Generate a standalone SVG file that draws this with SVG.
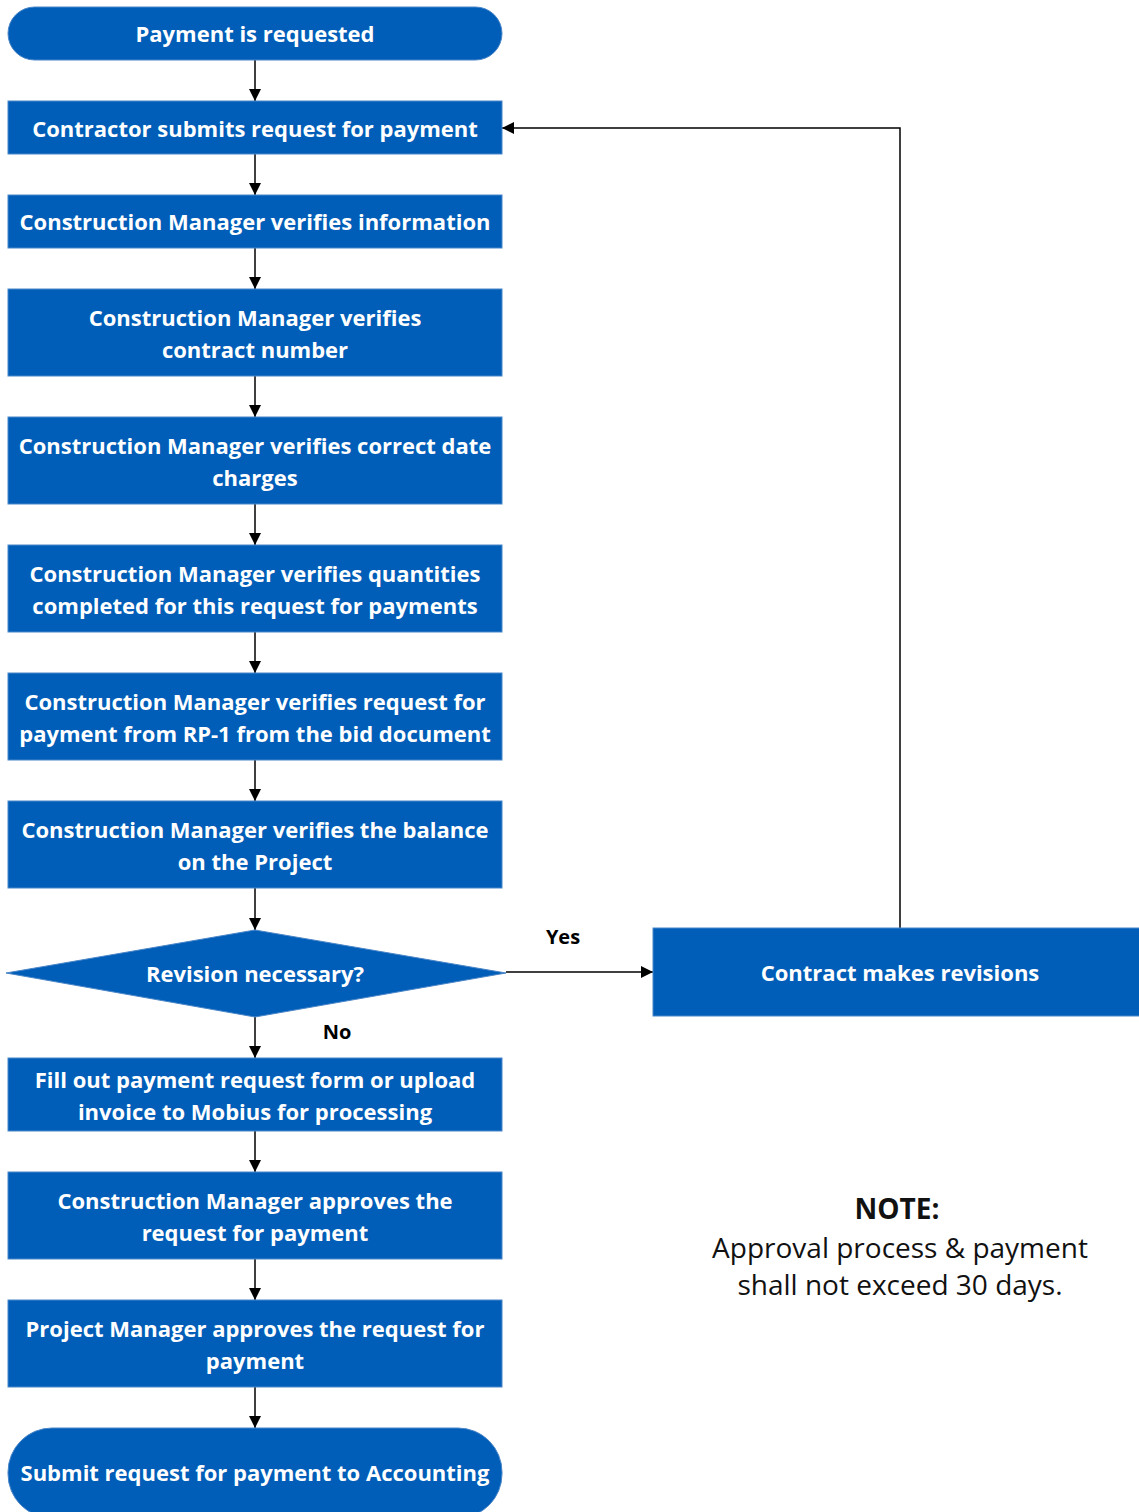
<svg xmlns="http://www.w3.org/2000/svg" width="1139" height="1512" viewBox="0 0 1139 1512">
  <style>
    .box { fill: #005EB8; stroke: #4A86C8; stroke-width: 1; }
    .lbl { font-family: "Open Sans", Lato, sans-serif; font-weight: bold; font-size: 22px; fill: #FFFFFF; text-anchor: middle; dominant-baseline: central; }
    .edge { fill: none; stroke: #000000; stroke-width: 1.5; }
    .elbl { font-family: "Open Sans", Lato, sans-serif; font-weight: bold; font-size: 20px; fill: #000000; text-anchor: middle; dominant-baseline: central; }
    .note { font-family: "Open Sans", Lato, sans-serif; font-size: 28px; fill: #111111; text-anchor: middle; dominant-baseline: central; }
  </style>
  <defs>
    <marker id="arrow" viewBox="0 0 10 10" refX="10" refY="5" markerWidth="12" markerHeight="12" markerUnits="userSpaceOnUse" orient="auto">
      <path d="M0,0 L10,5 L0,10 Z" fill="#000000"/>
    </marker>
  </defs>
  <rect width="1139" height="1512" fill="#FFFFFF"/>

  <g id="connectors">
    <path class="edge" d="M255,60 V101" marker-end="url(#arrow)"/>
    <path class="edge" d="M255,154 V195" marker-end="url(#arrow)"/>
    <path class="edge" d="M255,248 V289" marker-end="url(#arrow)"/>
    <path class="edge" d="M255,376 V417" marker-end="url(#arrow)"/>
    <path class="edge" d="M255,504 V545" marker-end="url(#arrow)"/>
    <path class="edge" d="M255,632 V673" marker-end="url(#arrow)"/>
    <path class="edge" d="M255,760 V801" marker-end="url(#arrow)"/>
    <path class="edge" d="M255,888 V930" marker-end="url(#arrow)"/>
    <path class="edge" d="M255,1017 V1058" marker-end="url(#arrow)"/>
    <path class="edge" d="M255,1131 V1172" marker-end="url(#arrow)"/>
    <path class="edge" d="M255,1259 V1300" marker-end="url(#arrow)"/>
    <path class="edge" d="M255,1387 V1428" marker-end="url(#arrow)"/>
    <path class="edge" d="M506,972 H653" marker-end="url(#arrow)"/>
    <path class="edge" d="M900,928 V128 H502" marker-end="url(#arrow)"/>
    <text class="elbl" x="563" y="936">Yes</text>
    <text class="elbl" x="337" y="1031">No</text>
  </g>

  <g id="start">
    <rect class="box" x="8" y="7" width="494" height="53" rx="26.5"/>
    <text class="lbl" x="255" y="33">Payment is requested</text>
  </g>
  <g id="contractor-submits">
    <rect class="box" x="8" y="101" width="494" height="53"/>
    <text class="lbl" x="255" y="128">Contractor submits request for payment</text>
  </g>
  <g id="verify-information">
    <rect class="box" x="8" y="195" width="494" height="53"/>
    <text class="lbl" x="255" y="221">Construction Manager verifies information</text>
  </g>
  <g id="verify-contract-number">
    <rect class="box" x="8" y="289" width="494" height="87"/>
    <text class="lbl" x="255" y="317">Construction Manager verifies</text>
    <text class="lbl" x="255" y="349">contract number</text>
  </g>
  <g id="verify-date-charges">
    <rect class="box" x="8" y="417" width="494" height="87"/>
    <text class="lbl" x="255" y="445">Construction Manager verifies correct date</text>
    <text class="lbl" x="255" y="477">charges</text>
  </g>
  <g id="verify-quantities">
    <rect class="box" x="8" y="545" width="494" height="87"/>
    <text class="lbl" x="255" y="573">Construction Manager verifies quantities</text>
    <text class="lbl" x="255" y="605">completed for this request for payments</text>
  </g>
  <g id="verify-rp1">
    <rect class="box" x="8" y="673" width="494" height="87"/>
    <text class="lbl" x="255" y="701">Construction Manager verifies request for</text>
    <text class="lbl" x="255" y="733">payment from RP-1 from the bid document</text>
  </g>
  <g id="verify-balance">
    <rect class="box" x="8" y="801" width="494" height="87"/>
    <text class="lbl" x="255" y="829">Construction Manager verifies the balance</text>
    <text class="lbl" x="255" y="861">on the Project</text>
  </g>
  <g id="revision-decision">
    <polygon class="box" points="255,930 506,973 255,1017 6,973"/>
    <text class="lbl" x="255" y="973">Revision necessary?</text>
  </g>
  <g id="contract-revisions">
    <rect class="box" x="653" y="928" width="492" height="88"/>
    <text class="lbl" x="900" y="972">Contract makes revisions</text>
  </g>
  <g id="fill-out-form">
    <rect class="box" x="8" y="1058" width="494" height="73"/>
    <text class="lbl" x="255" y="1079">Fill out payment request form or upload</text>
    <text class="lbl" x="255" y="1111">invoice to Mobius for processing</text>
  </g>
  <g id="cm-approves">
    <rect class="box" x="8" y="1172" width="494" height="87"/>
    <text class="lbl" x="255" y="1200">Construction Manager approves the</text>
    <text class="lbl" x="255" y="1232">request for payment</text>
  </g>
  <g id="pm-approves">
    <rect class="box" x="8" y="1300" width="494" height="87"/>
    <text class="lbl" x="255" y="1328">Project Manager approves the request for</text>
    <text class="lbl" x="255" y="1360">payment</text>
  </g>
  <g id="end">
    <rect class="box" x="8" y="1428" width="494" height="90" rx="44"/>
    <text class="lbl" x="255" y="1472">Submit request for payment to Accounting</text>
  </g>

  <g id="note">
    <text class="note" x="897" y="1208" font-weight="bold">NOTE:</text>
    <text class="note" x="900" y="1247">Approval process &amp; payment</text>
    <text class="note" x="900" y="1284">shall not exceed 30 days.</text>
  </g>
</svg>
